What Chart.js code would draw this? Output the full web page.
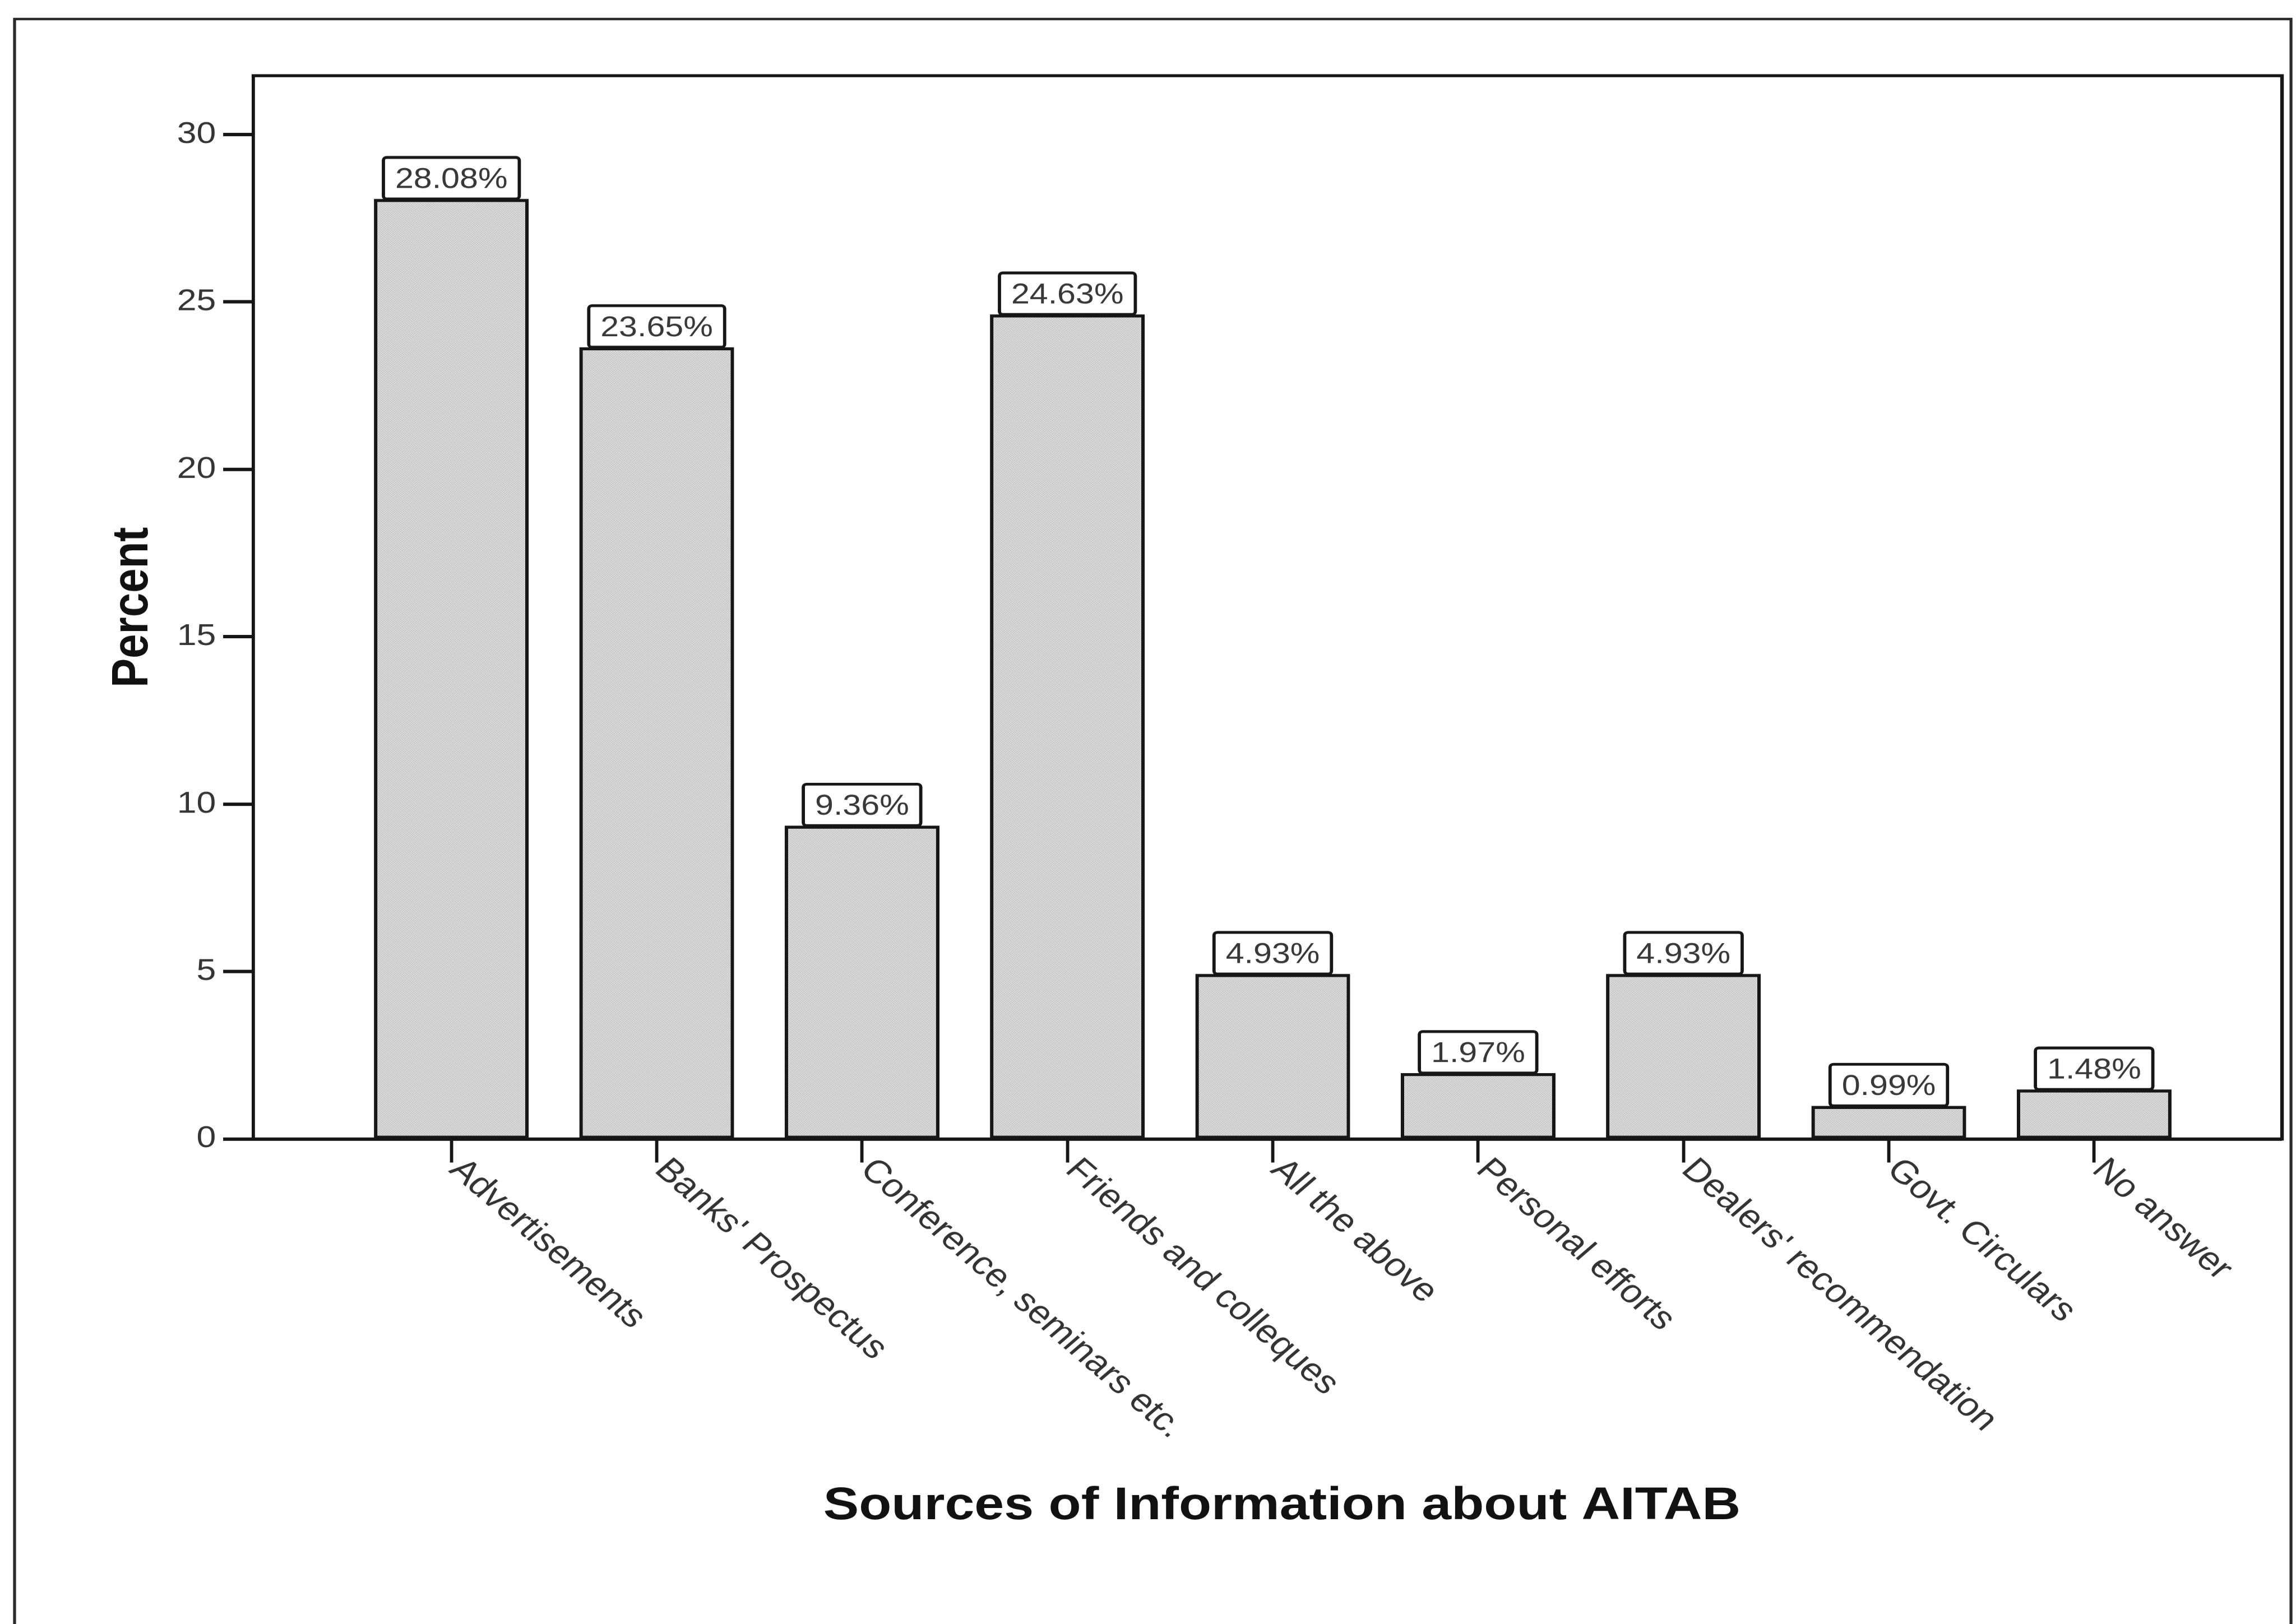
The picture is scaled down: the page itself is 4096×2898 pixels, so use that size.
<!DOCTYPE html>
<html>
<head>
<meta charset="utf-8">
<title>Sources of Information about AITAB</title>
<script src="https://cdn.jsdelivr.net/npm/chart.js@4.4.1/dist/chart.umd.min.js"></script>
<style>
  html, body { margin: 0; padding: 0; background: #ffffff; overflow: hidden; width: 4096px; height: 2898px; }
  /* the figure is laid out on a 3531px-wide stage and printed 16% wider */
  #stage { position: absolute; left: 0; top: 0; width: 3531px; height: 2898px;
           transform: scaleX(1.16001); transform-origin: 0 0; }
  #chart { display: block; }
</style>
</head>
<body>
<div id="stage"><canvas id="chart"></canvas></div>
<script>
// ---- data ----
const categories = [
  "Advertisements",
  "Banks' Prospectus",
  "Conference, seminars etc.",
  "Friends and colleques",
  "All the above",
  "Personal efforts",
  "Dealers' recommendation",
  "Govt. Circulars",
  "No answer"
];
const percents = [28.08, 23.65, 9.36, 24.63, 4.93, 1.97, 4.93, 0.99, 1.48];
const yTickValues = [0, 5, 10, 15, 20, 25, 30];
const xAxisTitle = "Sources of Information about AITAB";
const yAxisTitle = "Percent";

// ---- layout constants (stage pixels) ----
const STAGE_W = 3531;
const STAGE_H = 2898;
const STRETCH = 4096 / STAGE_W;
const FONT = '"Liberation Sans", Arial, Helvetica, sans-serif';
const INK = '#161616';
const PLOT = { left: 389.7, top: 135, right: 3509.5, bottom: 2032 };
const X_TICK_LEN = 42;

Chart.defaults.font.family = FONT;

const canvas = document.getElementById('chart');
const ctx = canvas.getContext('2d');

// fine grey stipple used to fill the bars
function stipple() {
  const t = document.createElement('canvas');
  t.width = 4; t.height = 4;
  const g = t.getContext('2d');
  g.fillStyle = '#d3d3d3'; g.fillRect(0, 0, 4, 4);
  g.fillStyle = '#bdbdbd'; g.fillRect(0, 0, 1, 1); g.fillRect(2, 2, 1, 1);
  g.fillStyle = '#e0e0e0'; g.fillRect(2, 0, 1, 1); g.fillRect(0, 2, 1, 1);
  return ctx.createPattern(t, 'repeat');
}

// frames, value boxes, slanted category labels and the x-axis title
const decorations = {
  id: 'decorations',
  beforeDraw(chart) {
    const c = chart.ctx;
    c.save();
    c.strokeStyle = '#2a2a2a';
    c.lineWidth = 4.5;
    c.beginPath();
    c.moveTo(22.4, STAGE_H + 20);
    c.lineTo(22.4, 34);
    c.lineTo(3523.3, 34);
    c.lineTo(3523.3, STAGE_H + 20);
    c.stroke();
    c.restore();
  },
  beforeDatasetsDraw(chart) {
    const c = chart.ctx, a = chart.chartArea;
    c.save();
    c.strokeStyle = INK;
    c.lineWidth = 5.5;
    c.lineCap = 'square';
    c.beginPath();
    c.moveTo(a.left, a.top);
    c.lineTo(a.right, a.top);
    c.lineTo(a.right, a.bottom);
    c.stroke();
    c.restore();
  },
  afterDatasetsDraw(chart) {
    const c = chart.ctx;
    const meta = chart.getDatasetMeta(0);
    c.save();
    c.font = `51px ${FONT}`;
    meta.data.forEach((bar, i) => {
      const txt = percents[i].toFixed(2) + '%';
      const w = c.measureText(txt).width + 36;
      const h = 74;
      const x = bar.x - w / 2, y = bar.y - h;
      c.beginPath();
      c.roundRect(x, y, w, h, 5);
      c.fillStyle = '#ffffff';
      c.fill();
      c.lineWidth = 5;
      c.strokeStyle = INK;
      c.stroke();
      c.fillStyle = '#383838';
      c.textAlign = 'center';
      c.textBaseline = 'alphabetic';
      c.fillText(txt, bar.x, bar.y - 19.5);
    });
    c.restore();
  },
  afterDraw(chart) {
    const c = chart.ctx, a = chart.chartArea, xs = chart.scales.x;
    c.save();
    c.fillStyle = '#333333';
    c.font = `58px ${FONT}`;
    c.textAlign = 'left';
    c.textBaseline = 'middle';
    categories.forEach((label, i) => {
      const px = xs.getPixelForValue(i + 1);
      c.save();
      c.translate(px + 6, a.bottom + X_TICK_LEN + 4);
      c.rotate(Math.PI / 4);
      c.fillText(label, 0, 0);
      c.restore();
    });
    c.fillStyle = '#111111';
    c.font = `bold 82px ${FONT}`;
    c.textAlign = 'center';
    c.textBaseline = 'alphabetic';
    c.fillText(xAxisTitle, 1971.5, 2710);
    c.restore();
  }
};

new Chart(ctx, {
  type: 'bar',
  data: {
    datasets: [{
      data: percents.map((v, i) => ({ x: i + 1, y: v })),
      backgroundColor: stipple(),
      borderColor: INK,
      borderWidth: 5.5,
      borderSkipped: false,
      barPercentage: 0.754,
      categoryPercentage: 1
    }]
  },
  options: {
    responsive: true,
    maintainAspectRatio: false,
    animation: false,
    devicePixelRatio: STRETCH,
    events: [],
    layout: { padding: { left: 0, top: PLOT.top, right: STAGE_W - PLOT.right, bottom: 0 } },
    plugins: {
      legend: { display: false },
      tooltip: { enabled: false },
      title: { display: false }
    },
    scales: {
      x: {
        type: 'linear',
        min: 0.036,
        max: 9.915,
        offset: false,
        grid: {
          display: true, offset: false, drawOnChartArea: false, drawTicks: true,
          tickLength: X_TICK_LEN, tickWidth: 5, tickColor: INK
        },
        border: { display: true, color: INK, width: 6 },
        ticks: { display: false },
        afterBuildTicks: (s) => { s.ticks = categories.map((_, i) => ({ value: i + 1 })); },
        afterFit: (s) => { s.height = STAGE_H - PLOT.bottom; }
      },
      y: {
        type: 'linear',
        min: 0,
        max: 31.76,
        grid: {
          display: true, drawOnChartArea: false, drawTicks: true,
          tickLength: 46.5, tickWidth: 6, tickColor: INK
        },
        border: { display: true, color: INK, width: 5 },
        ticks: { font: { size: 54 }, color: '#353535', padding: 11 },
        afterBuildTicks: (s) => { s.ticks = yTickValues.map(v => ({ value: v })); },
        title: {
          display: true, text: yAxisTitle, color: '#111111', padding: 158,
          font: { size: 78, weight: 'bold' }
        },
        afterFit: (s) => { s.width = PLOT.left; }
      }
    }
  },
  plugins: [decorations]
});
</script>
</body>
</html>
